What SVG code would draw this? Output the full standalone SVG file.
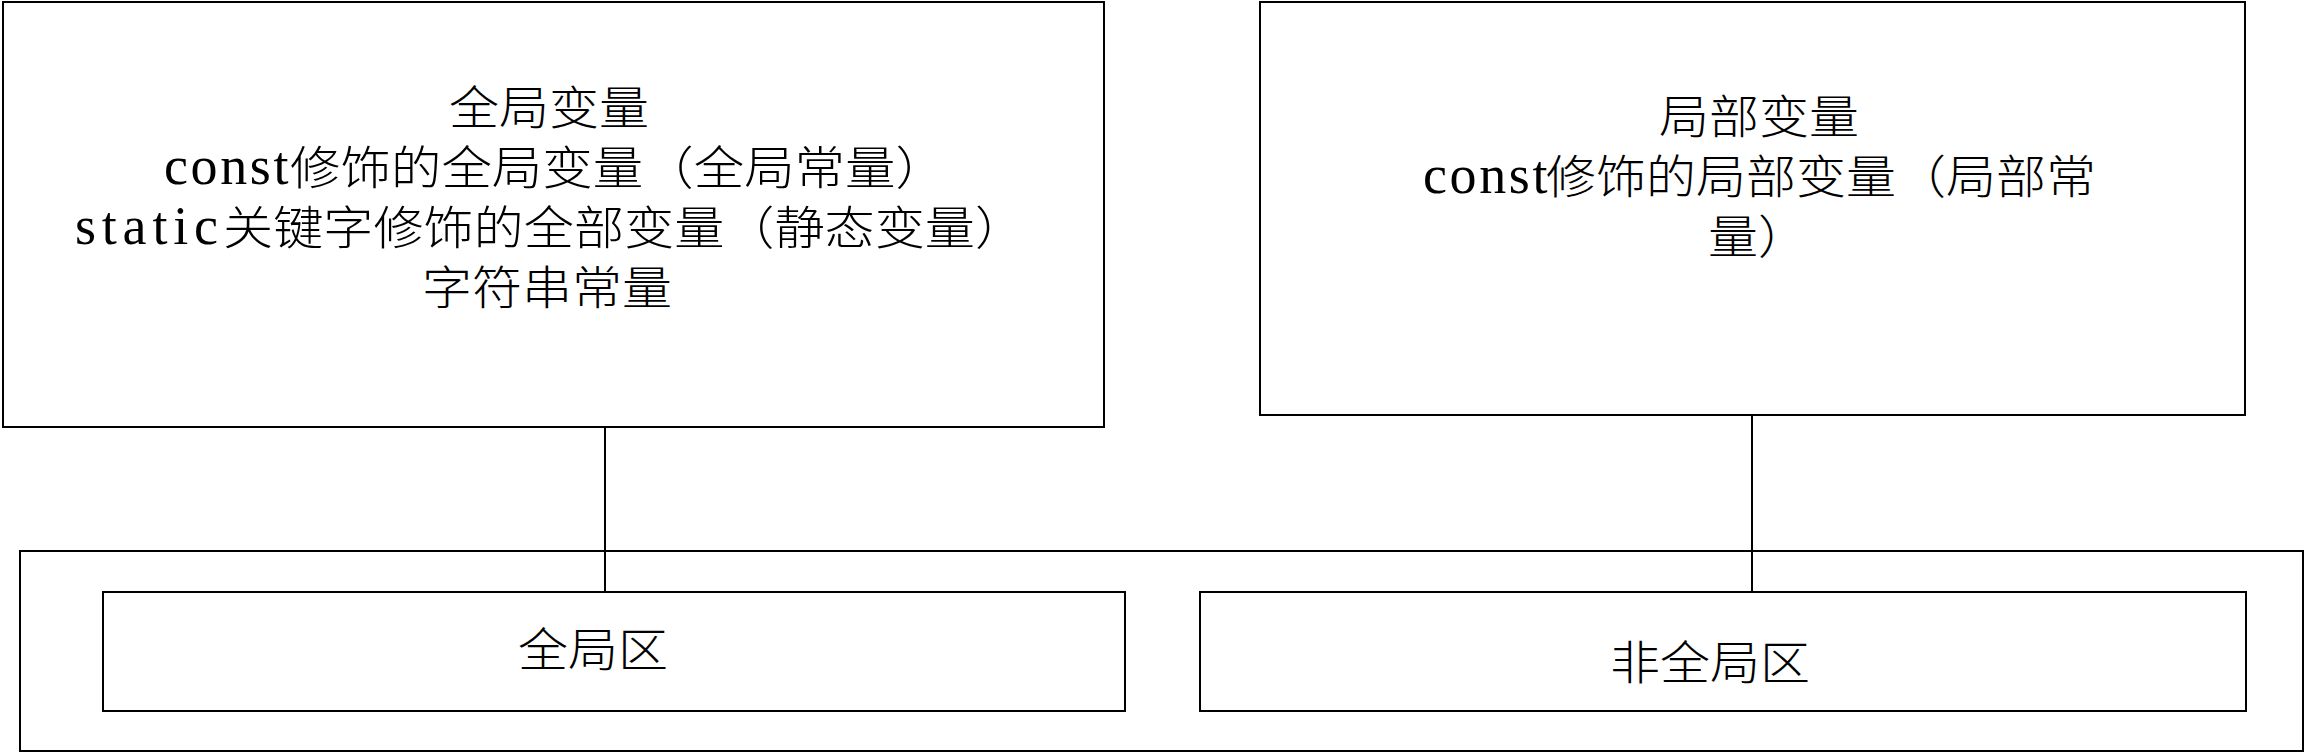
<svg xmlns="http://www.w3.org/2000/svg" width="2306" height="754" viewBox="0 0 2306 754">
<style>
.box{fill:#ffffff;stroke:#000000;stroke-width:2}
.conn{stroke:#000000;stroke-width:2;fill:none}
.t{font-family:"Noto Sans CJK SC","Liberation Serif",sans-serif;font-size:46px;font-weight:300;fill:#000000;text-anchor:middle}
.s{font-family:"Noto Sans CJK SC","Liberation Serif",sans-serif;font-size:46px;font-weight:300;fill:#000000;text-anchor:start}
.l{font-family:"Liberation Serif",serif;font-size:54px;fill:#000000;text-anchor:start}
</style>
<rect width="2306" height="754" fill="#ffffff"/>
<g id="outer">
<rect class="box" x="20" y="551" width="2283" height="200"/>
</g>
<g id="node-global-vars">
<rect class="box" x="3" y="2" width="1101" height="425"/>
<text class="t" x="549" y="124" textLength="200" lengthAdjust="spacingAndGlyphs">全局变量</text>
<text class="l" x="164" y="184" letter-spacing="2.6">const</text>
<text class="s" x="290" y="184" textLength="656" lengthAdjust="spacingAndGlyphs">修饰的全局变量（全局常量）</text>
<text class="l" x="75" y="244" letter-spacing="5.8">static</text>
<text class="s" x="223" y="244" textLength="802" lengthAdjust="spacingAndGlyphs">关键字修饰的全部变量（静态变量）</text>
<text class="t" x="547" y="304" textLength="250" lengthAdjust="spacingAndGlyphs">字符串常量</text>
</g>
<g id="node-local-vars">
<rect class="box" x="1260" y="2" width="985" height="413"/>
<text class="t" x="1759" y="133" textLength="200" lengthAdjust="spacingAndGlyphs">局部变量</text>
<text class="l" x="1423" y="193" letter-spacing="2.6">const</text>
<text class="s" x="1546" y="193" textLength="550" lengthAdjust="spacingAndGlyphs">修饰的局部变量（局部常</text>
<text class="t" x="1758" y="253" textLength="100" lengthAdjust="spacingAndGlyphs">量）</text>
</g>
<g id="node-global-area">
<rect class="box" x="103" y="592" width="1022" height="119"/>
<text class="t" x="593" y="666" textLength="150" lengthAdjust="spacingAndGlyphs">全局区</text>
</g>
<g id="node-nonglobal-area">
<rect class="box" x="1200" y="592" width="1046" height="119"/>
<text class="t" x="1710" y="679" textLength="200" lengthAdjust="spacingAndGlyphs">非全局区</text>
</g>
<g id="connectors">
<line class="conn" x1="605" y1="427" x2="605" y2="592"/>
<line class="conn" x1="1752" y1="415" x2="1752" y2="592"/>
</g>
</svg>
